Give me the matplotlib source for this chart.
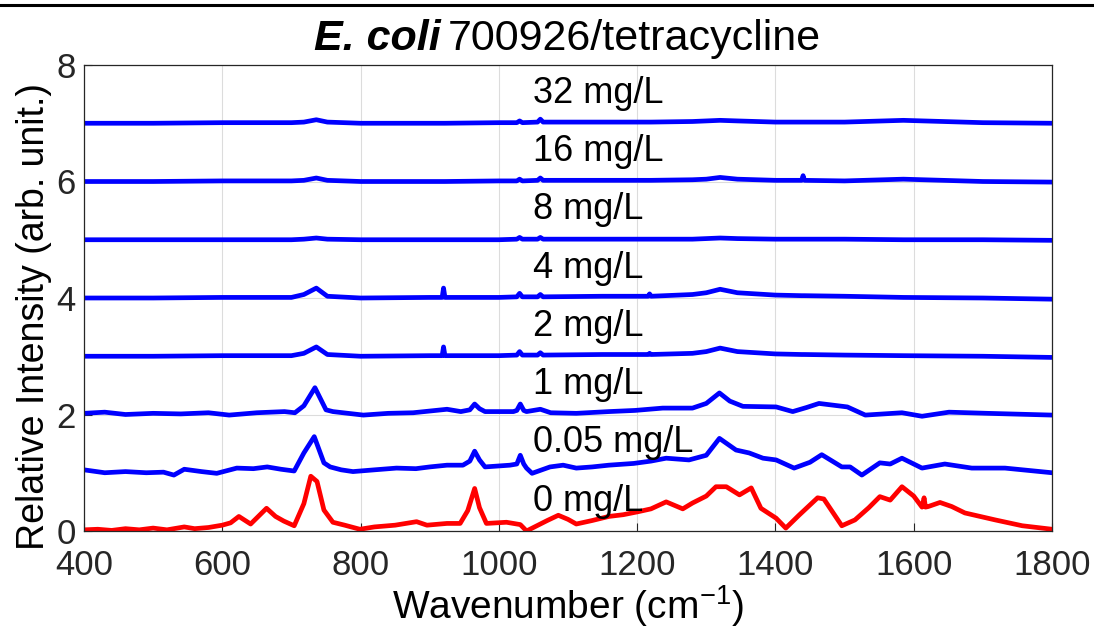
import matplotlib
matplotlib.use('Agg')
import matplotlib.pyplot as plt
from matplotlib.lines import Line2D

plt.rcParams['font.family'] = ['Liberation Sans', 'DejaVu Sans']
plt.rcParams['mathtext.default'] = 'regular'

# ---- data ----
labels = ['0 mg/L', '0.05 mg/L', '1 mg/L', '2 mg/L', '4 mg/L', '8 mg/L', '16 mg/L', '32 mg/L']
offsets = [0, 1, 2, 3, 4, 5, 6, 7]

wn_0 = [400, 420, 440, 460, 480, 500, 520, 545, 560, 580, 600, 612, 624, 641, 664, 677, 689, 704, 718, 728,
        737, 747, 760, 777, 799, 820, 850, 881, 896, 925, 944, 955, 965, 972, 982, 1011, 1031, 1036, 1040, 1055,
        1070, 1086, 1100, 1112, 1135, 1159, 1180, 1201, 1220, 1242, 1266, 1280, 1300, 1314, 1329, 1348, 1365, 1379, 1401, 1415,
        1434, 1461, 1470, 1496, 1515, 1535, 1551, 1566, 1583, 1600, 1612, 1615, 1617, 1621, 1638, 1655, 1674, 1718, 1757, 1800]
int_0 = [0.02, 0.03, 0.01, 0.04, 0.02, 0.05, 0.02, 0.07, 0.04, 0.06, 0.10, 0.14, 0.25, 0.12, 0.39, 0.25, 0.17, 0.09, 0.47, 0.94,
         0.85, 0.36, 0.15, 0.10, 0.03, 0.07, 0.10, 0.16, 0.10, 0.13, 0.13, 0.35, 0.73, 0.40, 0.13, 0.15, 0.11, 0.05, 0.00, 0.09,
         0.18, 0.27, 0.20, 0.12, 0.18, 0.25, 0.28, 0.33, 0.38, 0.50, 0.38, 0.48, 0.60, 0.76, 0.76, 0.62, 0.74, 0.39, 0.22, 0.05,
         0.27, 0.57, 0.55, 0.09, 0.19, 0.40, 0.59, 0.53, 0.76, 0.60, 0.41, 0.57, 0.41, 0.42, 0.49, 0.42, 0.31, 0.19, 0.09, 0.03]

wn_005 = [400, 430, 460, 490, 515, 530, 545, 570, 592, 621, 645, 665, 685, 704, 718, 733, 747, 756, 772, 789,
          820, 852, 880, 900, 925, 948, 958, 965, 972, 980, 1016, 1026, 1031, 1036, 1040, 1048, 1074, 1093, 1112, 1135,
          1159, 1195, 1220, 1242, 1275, 1300, 1319, 1343, 1362, 1382, 1401, 1427, 1450, 1467, 1496, 1508, 1525, 1551, 1566, 1583,
          1612, 1645, 1684, 1732, 1800]
int_005 = [0.05, 0.00, 0.02, 0.00, 0.01, -0.04, 0.06, 0.02, -0.01, 0.08, 0.07, 0.10, 0.06, 0.03, 0.34, 0.62, 0.17, 0.10, 0.05, 0.02,
           0.05, 0.08, 0.07, 0.10, 0.13, 0.13, 0.20, 0.37, 0.22, 0.10, 0.13, 0.15, 0.30, 0.15, 0.08, -0.01, 0.10, 0.13, 0.08, 0.10,
           0.13, 0.16, 0.20, 0.25, 0.22, 0.30, 0.59, 0.39, 0.34, 0.25, 0.22, 0.08, 0.18, 0.31, 0.10, 0.10, -0.04, 0.17, 0.15, 0.25,
           0.08, 0.15, 0.08, 0.08, 0.00]

wn_1 = [400, 430, 460, 500, 540, 580, 610, 650, 690, 705, 718, 734, 750, 760, 804, 840, 876, 925, 945, 958,
        965, 972, 980, 1021, 1026, 1031, 1036, 1040, 1060, 1075, 1112, 1159, 1197, 1237, 1280, 1300, 1319, 1334, 1353, 1401,
        1425, 1445, 1463, 1504, 1530, 1583, 1612, 1651, 1707, 1800]
int_1 = [0.02, 0.04, 0.00, 0.02, 0.01, 0.03, -0.01, 0.03, 0.05, 0.03, 0.15, 0.46, 0.08, 0.05, -0.01, 0.02, 0.03, 0.09, 0.05, 0.08,
         0.18, 0.10, 0.05, 0.05, 0.07, 0.18, 0.07, 0.05, 0.09, 0.03, 0.02, 0.05, 0.07, 0.11, 0.11, 0.19, 0.37, 0.23, 0.14, 0.13,
         0.05, 0.12, 0.19, 0.13, -0.01, 0.03, -0.03, 0.04, 0.02, -0.01]

# higher concentrations are nearly flat, read on a shared grid
wn_flat = [400, 500, 600, 700, 718, 736, 752, 800, 900, 918, 920, 922, 1000, 1026, 1030, 1034, 1056, 1060, 1064, 1150,
           1216, 1218, 1220, 1280, 1300, 1320, 1345, 1400, 1438, 1440, 1442, 1500, 1585, 1700, 1800]
int_2 = [0.00, 0.00, 0.01, 0.01, 0.05, 0.16, 0.03, 0.00, 0.01, 0.01, 0.16, 0.01, 0.01, 0.02, 0.08, 0.02, 0.02, 0.06, 0.02, 0.03,
         0.03, 0.05, 0.03, 0.05, 0.08, 0.14, 0.08, 0.04, 0.03, 0.03, 0.03, 0.02, 0.01, 0.00, -0.02]
int_4 = [0.00, 0.00, 0.01, 0.01, 0.06, 0.17, 0.03, 0.00, 0.01, 0.01, 0.17, 0.01, 0.01, 0.02, 0.08, 0.02, 0.02, 0.06, 0.02, 0.03,
         0.03, 0.07, 0.03, 0.06, 0.09, 0.15, 0.09, 0.05, 0.04, 0.04, 0.04, 0.03, 0.01, 0.00, -0.02]
int_8 = [0.00, 0.00, 0.00, 0.00, 0.01, 0.03, 0.01, 0.00, 0.00, 0.00, 0.00, 0.00, 0.00, 0.01, 0.04, 0.01, 0.01, 0.04, 0.01, 0.01,
         0.01, 0.01, 0.01, 0.01, 0.02, 0.03, 0.02, 0.01, 0.01, 0.01, 0.01, 0.01, 0.00, 0.00, -0.01]
int_16 = [0.00, 0.00, 0.01, 0.01, 0.02, 0.06, 0.02, 0.00, 0.00, 0.00, 0.00, 0.00, 0.01, 0.01, 0.04, 0.01, 0.02, 0.06, 0.02, 0.02,
          0.02, 0.02, 0.02, 0.03, 0.04, 0.07, 0.04, 0.02, 0.02, 0.10, 0.02, 0.01, 0.04, 0.00, -0.01]
int_32 = [0.00, 0.00, 0.01, 0.01, 0.02, 0.06, 0.02, 0.00, 0.00, 0.00, 0.00, 0.00, 0.01, 0.01, 0.04, 0.01, 0.02, 0.07, 0.02, 0.02,
          0.02, 0.02, 0.02, 0.03, 0.04, 0.05, 0.04, 0.02, 0.02, 0.02, 0.02, 0.02, 0.05, 0.01, 0.00]

spectra = [(wn_0, int_0), (wn_005, int_005), (wn_1, int_1), (wn_flat, int_2),
           (wn_flat, int_4), (wn_flat, int_8), (wn_flat, int_16), (wn_flat, int_32)]
colors = ['red'] + ['blue'] * 7

xticks = [400, 600, 800, 1000, 1200, 1400, 1600, 1800]
yticks = [0, 2, 4, 6, 8]

# ---- figure ----
fig = plt.figure(figsize=(10.94, 6.33), dpi=100)
ax = fig.add_axes([84 / 1094, 102 / 633, 968 / 1094, 466 / 633])

for (wn, inten), off, c in zip(spectra, offsets, colors):
    ax.plot(wn, [v + off for v in inten], color=c, linewidth=3.4, solid_joinstyle='round')

for lab, off in zip(labels, offsets):
    ax.text(1050, off + 0.35, lab, fontsize=26, ha='left', va='baseline', color='black')

ax.set_xlim(400, 1800)
ax.set_ylim(0, 8)
ax.set_xticks(xticks)
ax.set_yticks(yticks)
ax.grid(True, color='#dcdcdc', linewidth=0.8)
ax.set_axisbelow(True)
ax.tick_params(direction='in', length=6, width=0.8, labelsize=25, colors='#262626')
ax.tick_params(axis='x', pad=13)
ax.tick_params(axis='y', pad=6)
for s in ax.spines.values():
    s.set_color('#262626')
    s.set_linewidth(0.9)

ax.set_xlabel('Wavenumber (cm$^{-1}$)', fontsize=28, color='black')
ax.xaxis.set_label_coords(0.5, -0.112)
ax.set_ylabel('Relative Intensity (arb. unit.)', fontsize=27, color='black')
ax.yaxis.set_label_coords(-0.033, 0.461)

# title: italic bold species name followed by plain text
t1 = fig.text(0, 0.921, 'E. coli', fontsize=31, fontweight='bold', fontstyle='italic', ha='left', va='baseline')
t2 = fig.text(0, 0.921, '700926/tetracycline', fontsize=31, ha='left', va='baseline')
fig.canvas.draw()
r = fig.canvas.get_renderer()
w1 = t1.get_window_extent(r).width
w2 = t2.get_window_extent(r).width
gap = 7
x0 = 567 - (w1 + gap + w2) / 2
t1.set_x(x0 / 1094)
t2.set_x((x0 + w1 + gap) / 1094)

# thin black rule along the top edge
fig.add_artist(Line2D([0, 1], [1 - 4.5 / 633] * 2, transform=fig.transFigure, color='black', linewidth=2.2))

fig.savefig('out.png', dpi=100)
